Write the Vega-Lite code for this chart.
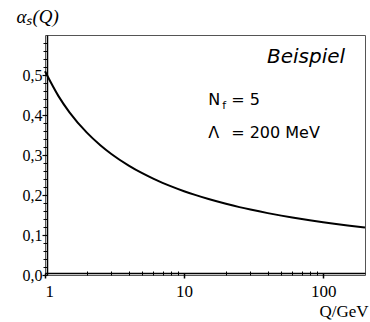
{
  "$schema": "https://vega.github.io/schema/vega-lite/v6.json",
  "width": 320,
  "height": 240,
  "autosize": {"type": "none"},
  "padding": {"left": 45, "top": 35, "right": 5, "bottom": 47},
  "background": "#ffffff",
  "config": {
    "view": {"stroke": "#555555", "strokeWidth": 1},
    "axis": {
      "labelFont": "Liberation Serif",
      "titleFont": "Liberation Serif",
      "labelColor": "#000000",
      "titleColor": "#000000",
      "domainColor": "#000000",
      "tickColor": "#000000",
      "grid": false
    }
  },
  "datasets": {
    "curve": [
      {"Q": 1, "a": 0.5092},
      {"Q": 1.25, "a": 0.4472},
      {"Q": 1.5, "a": 0.4067},
      {"Q": 2, "a": 0.3559},
      {"Q": 2.5, "a": 0.3245},
      {"Q": 3, "a": 0.3026},
      {"Q": 4, "a": 0.2736},
      {"Q": 5, "a": 0.2546},
      {"Q": 6, "a": 0.241},
      {"Q": 7, "a": 0.2305},
      {"Q": 8, "a": 0.2222},
      {"Q": 10, "a": 0.2095},
      {"Q": 12, "a": 0.2002},
      {"Q": 15, "a": 0.1898},
      {"Q": 20, "a": 0.178},
      {"Q": 25, "a": 0.1697},
      {"Q": 30, "a": 0.1636},
      {"Q": 40, "a": 0.1547},
      {"Q": 50, "a": 0.1484},
      {"Q": 60, "a": 0.1437},
      {"Q": 80, "a": 0.1368},
      {"Q": 100, "a": 0.1319},
      {"Q": 120, "a": 0.1281},
      {"Q": 150, "a": 0.1238},
      {"Q": 200, "a": 0.1186}
    ]
  },
  "resolve": {"axis": {"x": "independent", "y": "independent"}},
  "layer": [
    {
      "data": {"name": "curve"},
      "mark": {"type": "line", "opacity": 0},
      "encoding": {
        "x": {
          "field": "Q", "type": "quantitative",
          "scale": {"type": "log", "domain": [1, 200], "nice": false},
          "axis": {
            "orient": "bottom",
            "values": [2, 3, 4, 5, 6, 7, 8, 9, 20, 30, 40, 50, 60, 70, 80, 90],
            "labels": false, "domain": false, "tickSize": 4, "offset": -4,
            "tickColor": "#000000", "tickWidth": 1, "title": null
          }
        },
        "y": {
          "field": "a", "type": "quantitative",
          "scale": {"domain": [0, 0.6], "nice": false, "zero": true},
          "axis": {
            "orient": "left",
            "values": [0.02, 0.04, 0.06, 0.08, 0.12, 0.14, 0.16, 0.18, 0.22, 0.24, 0.26, 0.28, 0.32, 0.34, 0.36, 0.38, 0.42, 0.44, 0.46, 0.48, 0.52, 0.54, 0.56, 0.58],
            "labels": false, "domain": false, "tickSize": 4, "offset": -2,
            "tickColor": "#000000", "tickWidth": 1, "title": null
          }
        }
      }
    },
    {
      "data": {"name": "curve"},
      "mark": {"type": "line", "color": "#000000", "strokeWidth": 2, "interpolate": "monotone"},
      "encoding": {
        "x": {
          "field": "Q", "type": "quantitative",
          "axis": {
            "orient": "bottom", "values": [1, 10, 100],
            "labelExpr": "format(datum.value, 'd')",
            "labelFontSize": 17, "labelPadding": 5, "tickSize": 5, "offset": -2,
            "domainWidth": 1.5, "tickWidth": 1.5,
            "title": "Q/GeV", "titleFontSize": 17, "titleFontWeight": "normal", "titleAngle": 0,
            "titleAlign": "right", "titleBaseline": "alphabetic",
            "titleX": 323, "titleY": 43
          }
        },
        "y": {
          "field": "a", "type": "quantitative",
          "axis": {
            "orient": "left", "values": [0, 0.1, 0.2, 0.3, 0.4, 0.5],
            "labelExpr": "replace(format(datum.value, '.1f'), '.', ',')",
            "labelFontSize": 16, "labelPadding": 0, "tickSize": 5, "offset": -2,
            "domainWidth": 1.5, "tickWidth": 1.2,
            "title": "αₛ(Q)", "titleFontSize": 19, "titleFontStyle": "italic",
            "titleFontWeight": "normal", "titleAngle": 0,
            "titleAlign": "left", "titleBaseline": "alphabetic",
            "titleX": -31, "titleY": -13
          }
        }
      }
    },
    {
      "data": {"values": [{"Q": 144, "a": 0.53, "label": "Beispiel"}]},
      "mark": {"type": "text", "font": "DejaVu Sans", "fontStyle": "italic", "fontSize": 20, "align": "right", "baseline": "alphabetic", "color": "#000000"},
      "encoding": {
        "x": {"field": "Q", "type": "quantitative", "axis": null},
        "y": {"field": "a", "type": "quantitative", "axis": null},
        "text": {"field": "label"}
      }
    },
    {
      "data": {"values": [{"Q": 14.9, "a": 0.425, "label": "N"}, {"Q": 14.9, "a": 0.3425, "label": "Λ"}]},
      "mark": {"type": "text", "font": "DejaVu Sans", "fontSize": 16, "align": "left", "baseline": "alphabetic", "color": "#000000"},
      "encoding": {
        "x": {"field": "Q", "type": "quantitative", "axis": null},
        "y": {"field": "a", "type": "quantitative", "axis": null},
        "text": {"field": "label"}
      }
    },
    {
      "data": {"values": [{"Q": 14.9, "a": 0.425, "label": "f"}]},
      "mark": {"type": "text", "font": "DejaVu Sans", "fontSize": 11, "align": "left", "baseline": "alphabetic", "dx": 14, "dy": 4, "color": "#000000"},
      "encoding": {
        "x": {"field": "Q", "type": "quantitative", "axis": null},
        "y": {"field": "a", "type": "quantitative", "axis": null},
        "text": {"field": "label"}
      }
    },
    {
      "data": {"values": [{"Q": 14.9, "a": 0.425, "label": "=  5"}, {"Q": 14.9, "a": 0.3425, "label": "=  200 MeV"}]},
      "mark": {"type": "text", "font": "DejaVu Sans", "fontSize": 16, "align": "left", "baseline": "alphabetic", "dx": 23, "color": "#000000"},
      "encoding": {
        "x": {"field": "Q", "type": "quantitative", "axis": null},
        "y": {"field": "a", "type": "quantitative", "axis": null},
        "text": {"field": "label"}
      }
    }
  ]
}
